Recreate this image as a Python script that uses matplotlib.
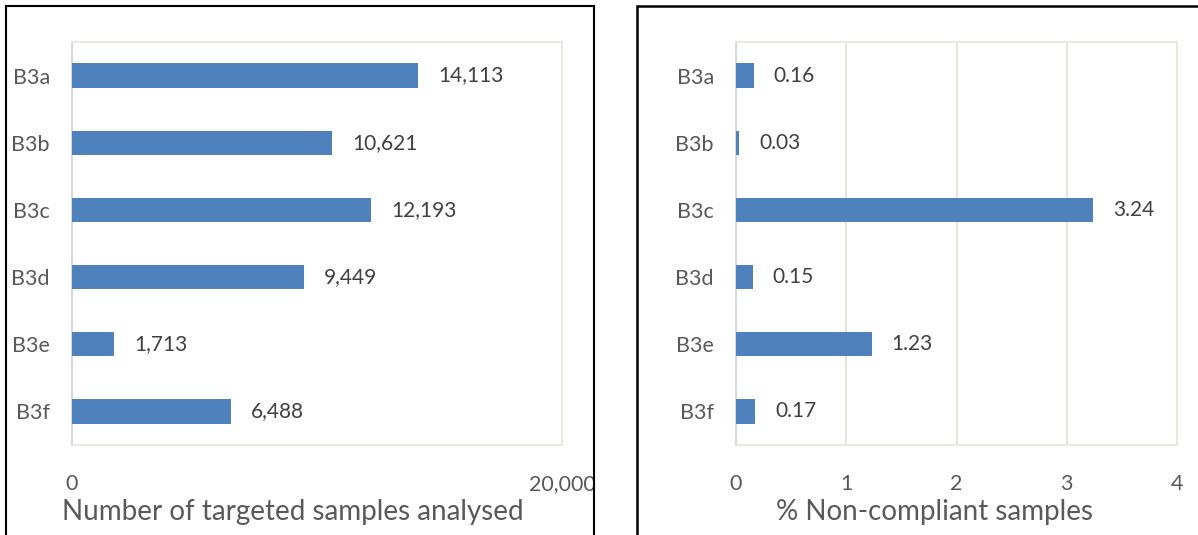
import matplotlib
matplotlib.use("Agg")
import matplotlib.pyplot as plt
from matplotlib.patches import Rectangle
from matplotlib.ticker import FuncFormatter

categories = ["B3a", "B3b", "B3c", "B3d", "B3e", "B3f"]
samples_analysed = [14113, 10621, 12193, 9449, 1713, 6488]
pct_noncompliant = [0.16, 0.03, 3.24, 0.15, 1.23, 0.17]
left_xticks = [0, 20000]
right_xticks = [0, 1, 2, 3, 4]
left_xlabel = "Number of targeted samples analysed"
right_xlabel = "% Non-compliant samples"

plt.rcParams['font.family'] = ['Lato', 'DejaVu Sans']

W, H = 1198, 535
fig = plt.figure(figsize=(W / 100, H / 100), dpi=100)

BAR = "#4F81BD"
TXT = "#595959"
LBL = "#404040"
GRID = "#E8E6DC"
AXL = "#D9D9D9"


def ax_at(x0, x1, y0, y1):
    return fig.add_axes([x0 / W, 1 - y1 / H, (x1 - x0) / W, (y1 - y0) / H])


def style(ax, xmax, ticks, fmt, labels_fmt, values, xlabel, grid, label_x):
    y = list(range(len(categories)))
    ax.barh(y, values, height=0.36, color=BAR, zorder=3)
    ax.set_ylim(len(categories) - 0.5, -0.5)
    ax.set_xlim(0, xmax)
    ax.set_yticks(y)
    ax.set_yticklabels(categories)
    ax.set_xticks(ticks)
    ax.xaxis.set_major_formatter(FuncFormatter(fmt))
    ax.tick_params(axis='both', length=0, labelsize=15.5, labelcolor=TXT)
    ax.tick_params(axis='y', pad=16)
    ax.tick_params(axis='x', pad=21)
    for s in ['top', 'bottom', 'right']:
        ax.spines[s].set_color(GRID)
        ax.spines[s].set_linewidth(1.2)
    ax.spines['left'].set_color(AXL)
    ax.spines['left'].set_linewidth(1.5)
    if grid:
        ax.xaxis.grid(True, color=GRID, linewidth=1.5, zorder=0)
    ax.set_axisbelow(True)
    ax.set_xlabel(xlabel, fontsize=20, color=TXT)
    ax.xaxis.set_label_coords(label_x, -0.166)
    ax.xaxis.label.set_va('center')
    for yi, v in zip(y, values):
        ax.annotate(labels_fmt(v), xy=(v, yi), xytext=(14.5, 0),
                    textcoords='offset points', va='center', ha='left',
                    fontsize=15, color=LBL)


axL = ax_at(72, 562, 42, 445)
style(axL, 20000, left_xticks, lambda v, p: f"{int(v):,}",
      lambda v: f"{v:,}", samples_analysed, left_xlabel, grid=False,
      label_x=0.5 - 24 / 490)

axR = ax_at(736, 1177, 42, 445)
style(axR, 4, right_xticks, lambda v, p: f"{int(v)}",
      lambda v: f"{v:.2f}", pct_noncompliant, right_xlabel, grid=True,
      label_x=0.5 - 22 / 441)

# panel frames
fig.patches.append(Rectangle((6 / W, -0.02), (594 - 6) / W, 1.02 - 6 / H,
                             transform=fig.transFigure, fill=False,
                             edgecolor='black', linewidth=1.5))
fig.patches.append(Rectangle((637 / W, -0.02), 0.5, 1.02 - 6 / H,
                             transform=fig.transFigure, fill=False,
                             edgecolor='black', linewidth=1.8))

fig.savefig("out.png", dpi=100, facecolor='white')
